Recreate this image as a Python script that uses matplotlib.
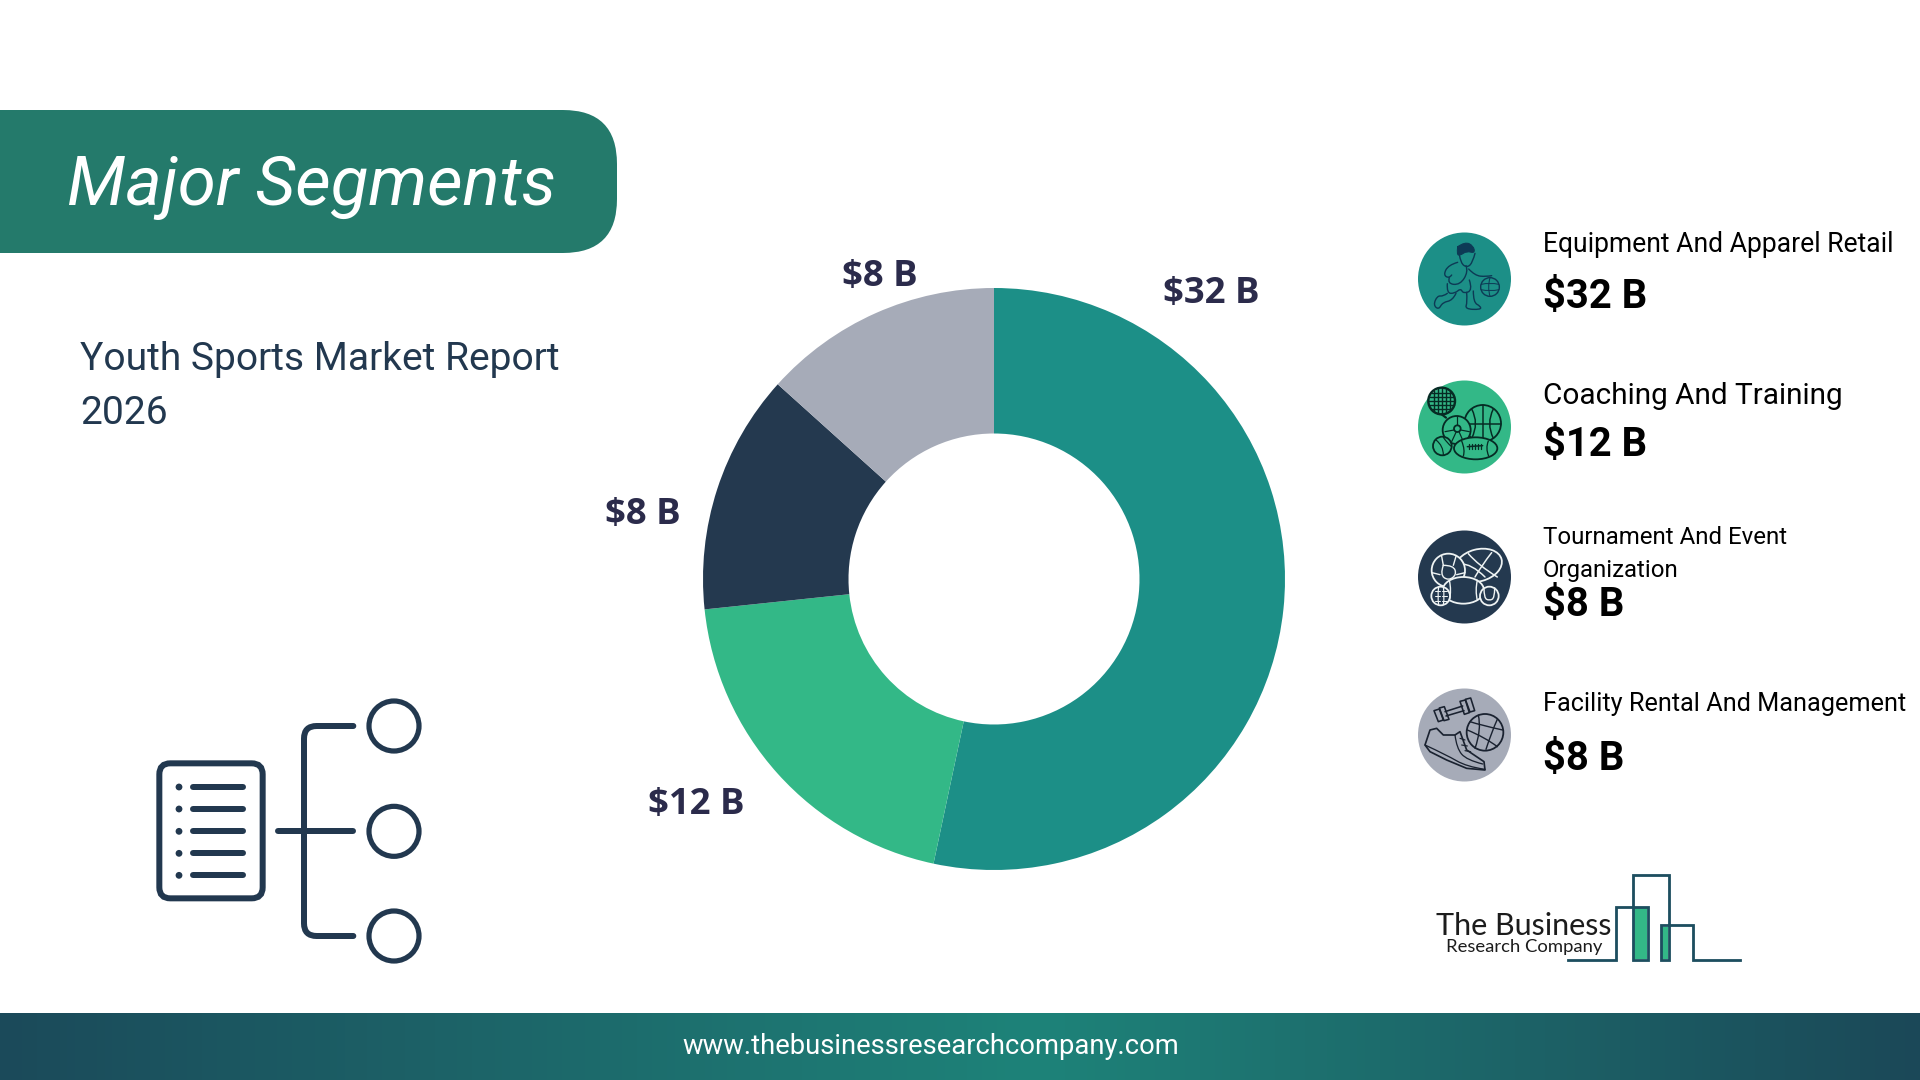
import numpy as np
import matplotlib
matplotlib.use("Agg")
import matplotlib.pyplot as plt
from matplotlib.patches import FancyBboxPatch, Circle, Rectangle, Ellipse, PathPatch, Polygon
from matplotlib.path import Path
from matplotlib.colors import LinearSegmentedColormap

segments = ["Equipment And Apparel Retail", "Coaching And Training",
            "Tournament And Event\nOrganization", "Facility Rental And Management"]
values = [32, 12, 8, 8]
value_labels = ["$32 B", "$12 B", "$8 B", "$8 B"]
colors = ["#1c8f87", "#33b887", "#24394f", "#a6abb8"]

NAVY = "#22384f"
LOGO = "#1d4e5f"
W, H = 1920, 1080

fig = plt.figure(figsize=(W / 100, H / 100), dpi=100, facecolor="white")
ax = fig.add_axes([0, 0, 1, 1])
ax.set_xlim(0, W)
ax.set_ylim(H, 0)
ax.axis("off")


def px(p):
    return p * 0.72


# footer
foot = LinearSegmentedColormap.from_list("foot", [(0, "#1b4a5a"), (0.54, "#1e8379"), (1, "#1b4858")])
ax.imshow(np.linspace(0, 1, 512).reshape(1, -1), cmap=foot, aspect="auto",
          extent=[0, W, H, 1013], zorder=1)
ax.set_xlim(0, W)
ax.set_ylim(H, 0)
ax.text(931, 1047, "www.thebusinessresearchcompany.com", color="white", family="Roboto",
        fontsize=px(27.4), ha="center", va="center", zorder=3)

# banner
ax.add_patch(FancyBboxPatch((-80, 110), 697, 143, boxstyle="round,pad=0,rounding_size=54",
                            fc="#247a6b", ec="none", zorder=2))
ax.text(67, 188, "Major Segments", color="white", family="Roboto", style="italic",
        fontsize=px(69), ha="left", va="center", zorder=3)

ax.text(80, 360, "Youth Sports Market Report", color=NAVY, family="Roboto", fontsize=px(39),
        ha="left", va="center")
ax.text(80, 414, "2026", color=NAVY, family="Roboto", fontsize=px(39), ha="left", va="center")

# donut
cx, cy, R = 994, 579, 291
pie_ax = fig.add_axes([(cx - R) / W, 1 - (cy + R) / H, 2 * R / W, 2 * R / H])
pie_ax.pie(values, colors=colors, startangle=90, counterclock=False, radius=1,
           wedgeprops=dict(width=0.5, linewidth=0))
pie_ax.set_xlim(-1, 1)
pie_ax.set_ylim(-1, 1)

pie_label_xy = [(1211, 294), (696, 805), (643, 515), (880, 277)]
for (lx, ly), lab in zip(pie_label_xy, value_labels):
    ax.text(lx, ly, lab, color="#2b2b4b", family="Open Sans", weight="bold", fontsize=px(36.5),
            ha="center", va="center")

# legend
icon_y = [279, 427, 577, 735]
name_y = [[245], [396], [537, 570], [704]]
name_size = [26.5, 29.8, 24, 25.2]
value_y = [297, 445, 605, 759]
for i in range(4):
    ax.add_patch(Circle((1464.5, icon_y[i]), 46.5, fc=colors[i], ec="none", zorder=2))
    for line, y in zip(segments[i].split("\n"), name_y[i]):
        ax.text(1543, y, line, color="black", family="Roboto", fontsize=px(name_size[i]),
                ha="left", va="center")
    ax.text(1543, value_y[i], value_labels[i], color="black", family="Roboto", weight="bold",
            fontsize=px(40), ha="left", va="center")


# icon drawing, coordinates are in a 330 wide box around each circle
def curve(pts, x0, y0, color, lw, closed=False, fill="none"):
    pts = [(x0 + a / 3, y0 + b / 3) for a, b in pts]
    if closed:
        pts = pts + [pts[0]]
    verts = [pts[0]]
    codes = [Path.MOVETO]
    for k in range(1, len(pts) - 1):
        mid = ((pts[k][0] + pts[k + 1][0]) / 2, (pts[k][1] + pts[k + 1][1]) / 2)
        if k == len(pts) - 2:
            mid = pts[k + 1]
        verts += [pts[k], mid]
        codes += [Path.CURVE3, Path.CURVE3]
    if len(pts) == 2:
        verts.append(pts[1])
        codes.append(Path.LINETO)
    ax.add_patch(PathPatch(Path(verts, codes), fc=fill, ec=color, lw=px(lw), zorder=3,
                           capstyle="round", joinstyle="round"))


def ring(a, b, r, x0, y0, color, lw, fill="none"):
    ax.add_patch(Circle((x0 + a / 3, y0 + b / 3), r / 3, fc=fill, ec=color, lw=px(lw), zorder=3))


def oval(a, b, rx, ry, ang, x0, y0, color, lw, fill="none"):
    ax.add_patch(Ellipse((x0 + a / 3, y0 + b / 3), 2 * rx / 3, 2 * ry / 3, angle=ang, fc=fill,
                         ec=color, lw=px(lw), zorder=3))


# player
x0, y0, c = 1410, 225, "#0d3a55"
curve([(143, 65), (165, 50), (190, 62), (195, 85), (170, 78), (150, 92), (140, 88)], x0, y0, c, 1, True, c)
curve([(148, 88), (152, 115), (172, 128), (188, 112), (195, 85)], x0, y0, c, 1.4)
curve([(143, 112), (115, 120), (100, 150), (118, 160), (125, 150)], x0, y0, c, 1.4)
curve([(118, 158), (112, 176), (150, 180), (175, 140), (168, 122)], x0, y0, c, 1.4)
curve([(176, 132), (195, 152), (228, 155), (245, 152)], x0, y0, c, 1.4)
curve([(112, 176), (110, 205), (135, 205), (152, 190), (160, 206), (188, 196), (178, 165)], x0, y0, c, 1.4)
curve([(112, 205), (100, 214), (82, 212), (70, 240), (86, 254), (98, 232), (128, 226), (138, 205)], x0, y0, c, 1.4)
curve([(170, 202), (172, 232), (165, 252), (212, 254), (212, 244), (190, 232), (190, 198)], x0, y0, c, 1.4)
ring(240, 186, 28, x0, y0, c, 1.4)
curve([(214, 178), (240, 172), (266, 178)], x0, y0, c, 1)
curve([(213, 194), (240, 200), (267, 194)], x0, y0, c, 1)
curve([(240, 158), (232, 186), (240, 214)], x0, y0, c, 1)

# balls on green
x0, y0, c, bg = 1410, 375, "#062b24", colors[1]
ring(218, 145, 55, x0, y0, c, 1.8, bg)
curve([(165, 147), (272, 147)], x0, y0, c, 1.5)
curve([(218, 90), (218, 200)], x0, y0, c, 1.5)
curve([(185, 102), (208, 145), (185, 190)], x0, y0, c, 1.5)
curve([(250, 102), (228, 145), (250, 190)], x0, y0, c, 1.5)
ring(140, 165, 42, x0, y0, c, 1.8, bg)
ring(142, 161, 10, x0, y0, c, 1.8)
for a, b, d, e in [(142, 151, 142, 124), (132, 165, 105, 170), (152, 165, 178, 170), (138, 172, 125, 200), (148, 172, 160, 200)]:
    curve([(a, b), (d, e)], x0, y0, c, 1.2)
oval(197, 220, 65, 33, 0, x0, y0, c, 1.8, bg)
curve([(172, 215), (218, 212)], x0, y0, c, 1.5)
for a in range(178, 218, 9):
    curve([(a, 207), (a, 222)], x0, y0, c, 1.3)
curve([(155, 198), (166, 225), (160, 243)], x0, y0, c, 1.3)
curve([(235, 198), (226, 220), (236, 243)], x0, y0, c, 1.3)
ring(97, 213, 28, x0, y0, c, 1.8, bg)
curve([(78, 195), (100, 212), (100, 240)], x0, y0, c, 1.2)
curve([(100, 187), (112, 205), (125, 215)], x0, y0, c, 1.2)
ring(95, 78, 40, x0, y0, c, 2.4)
for k in range(-24, 32, 12):
    span = (38 ** 2 - k ** 2) ** 0.5
    curve([(95 + k, 78 - span), (95 + k, 78 + span)], x0, y0, c, 1.4)
    curve([(95 - span, 78 + k), (95 + span, 78 + k)], x0, y0, c, 1.4)
curve([(95, 118), (108, 128)], x0, y0, c, 2.2)

# balls on navy
x0, y0, c, bg = 1410, 522, "#eef3f3", colors[2]
oval(205, 130, 72, 48, -15, x0, y0, c, 1.8, bg)
curve([(175, 95), (205, 130), (262, 165)], x0, y0, c, 1.5)
curve([(245, 92), (215, 130), (195, 165)], x0, y0, c, 1.5)
curve([(150, 125), (185, 125), (225, 165)], x0, y0, c, 1.5)
ring(115, 145, 50, x0, y0, c, 1.8, bg)
curve([(100, 130), (130, 130), (140, 158), (115, 176), (90, 158)], x0, y0, c, 1.4, True)
for a, b, d, e in [(100, 130, 95, 103), (130, 130, 138, 103), (140, 158, 165, 152), (115, 176, 115, 195), (90, 158, 66, 152)]:
    curve([(a, b), (d, e)], x0, y0, c, 1.4)
oval(160, 205, 62, 40, 0, x0, y0, c, 1.8, bg)
curve([(118, 175), (125, 205), (118, 235)], x0, y0, c, 1.4)
curve([(202, 175), (195, 205), (202, 235)], x0, y0, c, 1.4)
ring(92, 222, 28, x0, y0, c, 1.8, bg)
curve([(86, 195), (82, 222), (86, 248)], x0, y0, c, 1.2)
curve([(100, 195), (104, 222), (100, 248)], x0, y0, c, 1.2)
for b in (208, 222, 236):
    curve([(76, b), (90, b)], x0, y0, c, 1)
    curve([(96, b), (110, b)], x0, y0, c, 1)
ring(238, 222, 28, x0, y0, c, 1.8, bg)
curve([(222, 198), (222, 228), (238, 236), (254, 228), (254, 198)], x0, y0, c, 1.4)

# dumbbell, shoe and ball on grey
x0, y0, c = 1410, 680, "#1a2230"
curve([(105, 95), (158, 78)], x0, y0, c, 1.6)
curve([(108, 108), (162, 92)], x0, y0, c, 1.6)
for pl in ([(72, 92), (88, 87), (100, 120), (85, 125)], [(88, 84), (103, 80), (117, 118), (102, 122)],
           [(150, 64), (166, 60), (178, 98), (163, 103)], [(166, 58), (182, 54), (194, 92), (180, 96)]):
    ax.add_patch(Polygon([(x0 + a / 3, y0 + b / 3) for a, b in pl], fc="none", ec=c, lw=px(1.6),
                         joinstyle="round", zorder=3))
ring(225, 157, 55, x0, y0, c, 1.8)
curve([(172, 150), (225, 172), (262, 200)], x0, y0, c, 1.4)
curve([(205, 105), (215, 150), (195, 205)], x0, y0, c, 1.4)
curve([(262, 118), (245, 155), (228, 208)], x0, y0, c, 1.4)
curve([(180, 125), (210, 135), (278, 150)], x0, y0, c, 1.4)
sole = [(45, 195), (60, 150), (80, 145), (100, 165), (135, 165), (150, 155), (170, 210), (222, 245), (225, 270), (170, 265), (110, 240), (60, 215)]
ax.add_patch(Polygon([(x0 + a / 3, y0 + b / 3) for a, b in sole], fc="none", ec=c, lw=px(1.7),
                     joinstyle="round", zorder=3))
curve([(45, 195), (110, 225), (170, 260), (225, 268)], x0, y0, c, 1.3)
curve([(135, 165), (140, 205), (170, 240), (218, 252)], x0, y0, c, 1.3)
for a, b, d, e in [(150, 175, 165, 180), (155, 195, 172, 198), (165, 212, 182, 215)]:
    curve([(a, b), (d, e)], x0, y0, c, 1.2)

# list icon
x0, y0, c = 130, 680, NAVY
ax.add_patch(FancyBboxPatch((130 + 88 / 3, 680 + 250 / 3), 310 / 3, 405 / 3,
                            boxstyle="round,pad=0,rounding_size=11", fc="none", ec=c, lw=px(6), zorder=3))
for b in (321, 387, 454, 520, 586):
    ax.add_patch(Circle((x0 + 147 / 3, y0 + b / 3), 3.4, fc=c, ec="none", zorder=3))
    ax.plot([x0 + 190 / 3, x0 + 340 / 3], [y0 + b / 3] * 2, color=c, lw=px(6), solid_capstyle="round", zorder=3)
ax.plot([x0 + 445 / 3, x0 + 670 / 3], [y0 + 454 / 3] * 2, color=c, lw=px(6), solid_capstyle="round", zorder=3)
path = Path([(x0 + 670 / 3, y0 + 138 / 3), (x0 + 560 / 3, y0 + 138 / 3), (x0 + 522 / 3, y0 + 138 / 3),
             (x0 + 522 / 3, y0 + 176 / 3), (x0 + 522 / 3, y0 + 730 / 3), (x0 + 522 / 3, y0 + 768 / 3),
             (x0 + 560 / 3, y0 + 768 / 3), (x0 + 670 / 3, y0 + 768 / 3)],
            [Path.MOVETO, Path.LINETO, Path.CURVE3, Path.CURVE3, Path.LINETO, Path.CURVE3, Path.CURVE3, Path.LINETO])
ax.add_patch(PathPatch(path, fc="none", ec=c, lw=px(6), capstyle="round", zorder=3))
for b in (138, 454, 768):
    ax.add_patch(Circle((x0 + 792 / 3, y0 + b / 3), 25, fc="none", ec=c, lw=px(5.2), zorder=3))

# logo
x0, y0 = 1420, 860
ax.add_patch(Rectangle((x0 + 640 / 3, y0 + 145 / 3), 42 / 3, 153 / 3, fc=colors[1], ec="none", zorder=3))
ax.add_patch(Rectangle((x0 + 725 / 3, y0 + 200 / 3), 20 / 3, 98 / 3, fc=colors[1], ec="none", zorder=3))
logo_pts = [(445, 300), (588, 300), (588, 140), (684, 140), (684, 300), (638, 300), (638, 44), (746, 44),
            (746, 300), (722, 300), (722, 195), (818, 195), (818, 300), (960, 300)]
ax.plot([x0 + a / 3 for a, b in logo_pts], [y0 + b / 3 for a, b in logo_pts], color=LOGO, lw=px(2.8),
        solid_joinstyle="miter", zorder=4)
ax.text(1436, 935, "The Business", color="#1c1c1c", family="Lato", fontsize=px(30.5),
        ha="left", va="baseline", zorder=5)
ax.text(1446, 952, "Research Company", color="#1c1c1c", family="Lato", fontsize=px(18.5),
        ha="left", va="baseline", zorder=5)

fig.savefig("out.png", dpi=100)
